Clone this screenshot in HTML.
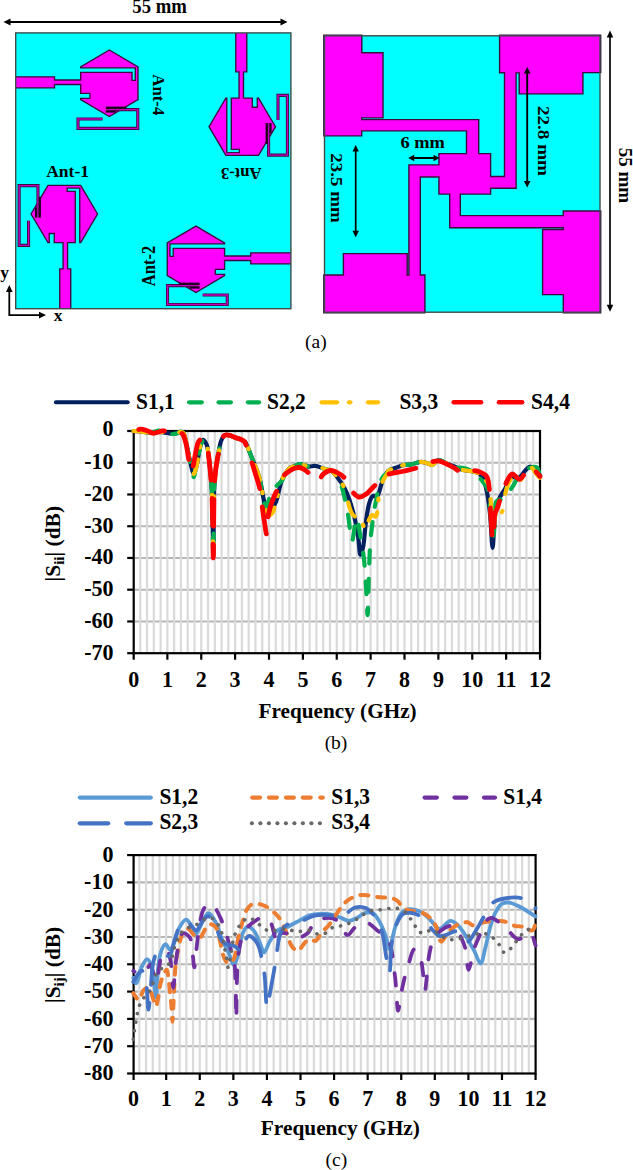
<!DOCTYPE html>
<html><head><meta charset="utf-8"><title>Figure</title>
<style>
html,body{margin:0;padding:0;background:#fff;}
body{width:633px;height:1170px;overflow:hidden;}
svg{display:block;font-family:"Liberation Serif",serif;}
</style></head><body>
<svg width="633" height="1170" viewBox="0 0 633 1170">
<rect width="633" height="1170" fill="#fff"/>
<line x1="8.4" y1="22" x2="282.6" y2="22" stroke="#000" stroke-width="2.2"/><polygon points="3.5,22 10.5,18.4 10.5,25.6" fill="#000"/><polygon points="287.5,22 280.5,25.6 280.5,18.4" fill="#000"/>
<text x="0" y="0" font-size="19.5" font-weight="bold" text-anchor="middle" transform="translate(159.6,13.4) scale(1,1.07)" textLength="54.5" lengthAdjust="spacingAndGlyphs">55 mm</text>
<defs><clipPath id="boxL"><rect x="15.7" y="32.9" width="275.2" height="275.8"/></clipPath></defs>
<rect x="15.7" y="32.9" width="275.2" height="275.8" fill="#00ffff"/>
<g clip-path="url(#boxL)">
<g transform="matrix(1,0,0,1,109.35,83.25)"><polygon points="0,-33.25 28.65,-16.4 28.65,16.3 0,33.25 -28.65,16.3 -28.65,15.05 -19.45,15.05 -19.45,10.05 -28.65,10.05 -28.65,1.25 -54.85,1.25 -54.85,4.55 -110,4.55 -110,-6.45 -54.85,-6.45 -54.85,-3.25 -28.65,-3.25 -28.65,-10.95 22.65,-10.95 22.65,-2.85 25.95,-2.85 25.95,-15.45 -28.65,-15.45 -28.65,-16.4" fill="#ff00ff" stroke="#3c0a3c" stroke-width="1.35" stroke-linejoin="miter"/><polyline points="-3.35,26.35 28.4,26.35 28.4,45.15 -31.35,45.15 -31.35,35.75 -6.75,35.75" fill="none" stroke="#3c0a3c" stroke-width="3.1" stroke-linejoin="miter"/><polyline points="-3.35,26.35 28.4,26.35 28.4,45.15 -31.35,45.15 -31.35,35.75 -6.75,35.75" fill="none" stroke="#c000c0" stroke-width="1.4" stroke-linejoin="miter"/><rect x="-3.65" y="23.35" width="20.8" height="2.2" fill="#1e001e"/><rect x="-3.65" y="27.45" width="10.1" height="1.9" fill="#1e001e"/></g>
<g transform="matrix(0,-1,-1,0,64.3,214)"><polygon points="0,-33.25 28.65,-16.4 28.65,16.3 0,33.25 -28.65,16.3 -28.65,15.05 -19.45,15.05 -19.45,10.05 -28.65,10.05 -28.65,1.25 -54.85,1.25 -54.85,4.55 -110,4.55 -110,-6.45 -54.85,-6.45 -54.85,-3.25 -28.65,-3.25 -28.65,-10.95 22.65,-10.95 22.65,-2.85 25.95,-2.85 25.95,-15.45 -28.65,-15.45 -28.65,-16.4" fill="#ff00ff" stroke="#3c0a3c" stroke-width="1.35" stroke-linejoin="miter"/><polyline points="-3.35,26.35 28.4,26.35 28.4,45.15 -31.35,45.15 -31.35,35.75 -6.75,35.75" fill="none" stroke="#3c0a3c" stroke-width="3.1" stroke-linejoin="miter"/><polyline points="-3.35,26.35 28.4,26.35 28.4,45.15 -31.35,45.15 -31.35,35.75 -6.75,35.75" fill="none" stroke="#c000c0" stroke-width="1.4" stroke-linejoin="miter"/><rect x="-3.65" y="23.35" width="20.8" height="2.2" fill="#1e001e"/><rect x="-3.65" y="27.45" width="10.1" height="1.9" fill="#1e001e"/></g>
<g transform="matrix(0,1,1,0,242.25,126.7)"><polygon points="0,-33.25 28.65,-16.4 28.65,16.3 0,33.25 -28.65,16.3 -28.65,15.05 -19.45,15.05 -19.45,10.05 -28.65,10.05 -28.65,1.25 -54.85,1.25 -54.85,4.55 -110,4.55 -110,-6.45 -54.85,-6.45 -54.85,-3.25 -28.65,-3.25 -28.65,-10.95 22.65,-10.95 22.65,-2.85 25.95,-2.85 25.95,-15.45 -28.65,-15.45 -28.65,-16.4" fill="#ff00ff" stroke="#3c0a3c" stroke-width="1.35" stroke-linejoin="miter"/><polyline points="-3.35,26.35 28.4,26.35 28.4,45.15 -31.35,45.15 -31.35,35.75 -6.75,35.75" fill="none" stroke="#3c0a3c" stroke-width="3.1" stroke-linejoin="miter"/><polyline points="-3.35,26.35 28.4,26.35 28.4,45.15 -31.35,45.15 -31.35,35.75 -6.75,35.75" fill="none" stroke="#c000c0" stroke-width="1.4" stroke-linejoin="miter"/><rect x="-3.65" y="23.35" width="20.8" height="2.2" fill="#1e001e"/><rect x="-3.65" y="27.45" width="10.1" height="1.9" fill="#1e001e"/></g>
<g transform="matrix(-1,0,0,1,195.9,259.3)"><polygon points="0,-33.25 28.65,-16.4 28.65,16.3 0,33.25 -28.65,16.3 -28.65,15.05 -19.45,15.05 -19.45,10.05 -28.65,10.05 -28.65,1.25 -54.85,1.25 -54.85,4.55 -110,4.55 -110,-6.45 -54.85,-6.45 -54.85,-3.25 -28.65,-3.25 -28.65,-10.95 22.65,-10.95 22.65,-2.85 25.95,-2.85 25.95,-15.45 -28.65,-15.45 -28.65,-16.4" fill="#ff00ff" stroke="#3c0a3c" stroke-width="1.35" stroke-linejoin="miter"/><polyline points="-3.35,26.35 28.4,26.35 28.4,45.15 -31.35,45.15 -31.35,35.75 -6.75,35.75" fill="none" stroke="#3c0a3c" stroke-width="3.1" stroke-linejoin="miter"/><polyline points="-3.35,26.35 28.4,26.35 28.4,45.15 -31.35,45.15 -31.35,35.75 -6.75,35.75" fill="none" stroke="#c000c0" stroke-width="1.4" stroke-linejoin="miter"/><rect x="-3.65" y="23.35" width="20.8" height="2.2" fill="#1e001e"/><rect x="-3.65" y="27.45" width="10.1" height="1.9" fill="#1e001e"/></g>
</g>
<rect x="15.7" y="32.9" width="275.2" height="275.8" fill="none" stroke="#3c4c4c" stroke-width="1.4"/>
<text x="0" y="0" font-size="17.5" font-weight="bold" text-anchor="start" transform="translate(153.4,74.3) rotate(90)" textLength="41" lengthAdjust="spacingAndGlyphs">Ant-4</text>
<text x="46.2" y="176.6" font-size="17.5" font-weight="bold" text-anchor="start">Ant-1</text>
<text x="0" y="0" font-size="17.5" font-weight="bold" text-anchor="start" transform="translate(261.6,168.2) rotate(180)" textLength="40.6" lengthAdjust="spacingAndGlyphs">Ant-3</text>
<text x="0" y="0" font-size="18" font-weight="bold" text-anchor="start" transform="translate(155.2,286.2) rotate(-90)" textLength="40.4" lengthAdjust="spacingAndGlyphs">Ant-2</text>
<polyline points="9.3,291 9.3,315.1 39.5,315.1" fill="none" stroke="#000" stroke-width="1.8"/>
<polygon points="9.3,285 12.6,292 6,292" fill="#000"/>
<polygon points="46,315.1 39,318.4 39,311.8" fill="#000"/>
<text x="0.3" y="277.5" font-size="17.5" font-weight="bold" text-anchor="start">y</text>
<text x="53.8" y="320.5" font-size="17.5" font-weight="bold" text-anchor="start">x</text>
<rect x="324.5" y="35.8" width="275.5" height="276.4" fill="#00ffff"/>
<polygon points="324.5,35.8 361.1,35.8 361.1,53.4 382.3,53.4 382.3,117.2 361,117.2 361,135.2 324.5,135.2" fill="none" stroke="#3c0a3c" stroke-width="2.8" stroke-linejoin="miter"/>
<polygon points="360.8,120.3 478,120.3 478,155 467.2,155 467.2,130.2 360.8,130.2" fill="none" stroke="#3c0a3c" stroke-width="2.8" stroke-linejoin="miter"/>
<polygon points="439.6,154.3 489.9,154.3 489.9,193.4 439.6,193.4" fill="none" stroke="#3c0a3c" stroke-width="2.8" stroke-linejoin="miter"/>
<polygon points="489.5,177.2 505.2,177.2 505.2,71.9 515.4,71.9 515.4,187.5 489.5,187.5" fill="none" stroke="#3c0a3c" stroke-width="2.8" stroke-linejoin="miter"/>
<polygon points="500.3,35.8 600,35.8 600,71.9 582.2,71.9 582.2,93.2 519.9,93.2 519.9,72.2 515.4,72.2 515.4,71.9 504.6,71.9 504.6,72 500.3,72" fill="none" stroke="#3c0a3c" stroke-width="2.8" stroke-linejoin="miter"/>
<polygon points="450.4,193 459.6,193 459.6,216.3 564.5,216.3 564.5,227 450.4,227" fill="none" stroke="#3c0a3c" stroke-width="2.8" stroke-linejoin="miter"/>
<polygon points="564,211.7 600,211.7 600,312.2 564,312.2 564,293.9 543.3,293.9 543.3,230.2 564,230.2" fill="none" stroke="#3c0a3c" stroke-width="2.8" stroke-linejoin="miter"/>
<polygon points="440,165.6 440,176.3 419.6,176.3 419.6,276 409.6,276 409.6,165.6" fill="none" stroke="#3c0a3c" stroke-width="2.8" stroke-linejoin="miter"/>
<polygon points="324.5,275.7 344.1,275.7 344.1,254.3 406.5,254.3 406.5,275.7 424.2,275.7 424.2,312.2 324.5,312.2" fill="none" stroke="#3c0a3c" stroke-width="2.8" stroke-linejoin="miter"/>
<polygon points="324.5,35.8 361.1,35.8 361.1,53.4 382.3,53.4 382.3,117.2 361,117.2 361,135.2 324.5,135.2" fill="#ff00ff"/>
<polygon points="360.8,120.3 478,120.3 478,155 467.2,155 467.2,130.2 360.8,130.2" fill="#ff00ff"/>
<polygon points="439.6,154.3 489.9,154.3 489.9,193.4 439.6,193.4" fill="#ff00ff"/>
<polygon points="489.5,177.2 505.2,177.2 505.2,71.9 515.4,71.9 515.4,187.5 489.5,187.5" fill="#ff00ff"/>
<polygon points="500.3,35.8 600,35.8 600,71.9 582.2,71.9 582.2,93.2 519.9,93.2 519.9,72.2 515.4,72.2 515.4,71.9 504.6,71.9 504.6,72 500.3,72" fill="#ff00ff"/>
<polygon points="450.4,193 459.6,193 459.6,216.3 564.5,216.3 564.5,227 450.4,227" fill="#ff00ff"/>
<polygon points="564,211.7 600,211.7 600,312.2 564,312.2 564,293.9 543.3,293.9 543.3,230.2 564,230.2" fill="#ff00ff"/>
<polygon points="440,165.6 440,176.3 419.6,176.3 419.6,276 409.6,276 409.6,165.6" fill="#ff00ff"/>
<polygon points="324.5,275.7 344.1,275.7 344.1,254.3 406.5,254.3 406.5,275.7 424.2,275.7 424.2,312.2 324.5,312.2" fill="#ff00ff"/>
<rect x="324.5" y="35.8" width="275.5" height="276.4" fill="none" stroke="#3c4c4c" stroke-width="1.4"/>
<line x1="412.4" y1="158" x2="435.3" y2="158" stroke="#000" stroke-width="2"/><polygon points="408.2,158 414.2,154.8 414.2,161.2" fill="#000"/><polygon points="439.5,158 433.5,161.2 433.5,154.8" fill="#000"/>
<text x="400.4" y="147.6" font-size="17.5" font-weight="bold" text-anchor="start" textLength="44.4" lengthAdjust="spacingAndGlyphs">6 mm</text>
<line x1="527.2" y1="71.55" x2="527.2" y2="182.95" stroke="#000" stroke-width="1.9"/><polygon points="527.2,67 530.5,73.5 523.9,73.5" fill="#000"/><polygon points="527.2,187.5 523.9,181 530.5,181" fill="#000"/>
<text x="0" y="0" font-size="17.5" font-weight="bold" text-anchor="start" transform="translate(537.8,106.0) rotate(90)" textLength="70" lengthAdjust="spacingAndGlyphs">22.8 mm</text>
<line x1="355.7" y1="149.55" x2="355.7" y2="232.65" stroke="#000" stroke-width="1.7"/><polygon points="355.7,145 358.9,151.5 352.5,151.5" fill="#000"/><polygon points="355.7,237.2 352.5,230.7 358.9,230.7" fill="#000"/>
<text x="0" y="0" font-size="17.5" font-weight="bold" text-anchor="start" transform="translate(331.2,153.3) rotate(90)" textLength="69.4" lengthAdjust="spacingAndGlyphs">23.5 mm</text>
<line x1="610" y1="35.4" x2="610" y2="306.8" stroke="#000" stroke-width="1.7"/><polygon points="610,30.5 613.3,37.5 606.7,37.5" fill="#000"/><polygon points="610,311.7 606.7,304.7 613.3,304.7" fill="#000"/>
<text x="0" y="0" font-size="19" font-weight="bold" text-anchor="start" transform="translate(619.3,147.7) rotate(90)">55 mm</text>
<text x="315.9" y="348.2" font-size="19.5" font-weight="normal" text-anchor="middle">(a)</text>
<line x1="133.7" y1="462.74" x2="540" y2="462.74" stroke="#b6b6b6" stroke-width="2.1"/>
<line x1="133.7" y1="494.49" x2="540" y2="494.49" stroke="#b6b6b6" stroke-width="2.1"/>
<line x1="133.7" y1="526.23" x2="540" y2="526.23" stroke="#b6b6b6" stroke-width="2.1"/>
<line x1="133.7" y1="557.97" x2="540" y2="557.97" stroke="#b6b6b6" stroke-width="2.1"/>
<line x1="133.7" y1="589.71" x2="540" y2="589.71" stroke="#b6b6b6" stroke-width="2.1"/>
<line x1="133.7" y1="621.46" x2="540" y2="621.46" stroke="#b6b6b6" stroke-width="2.1"/>
<line x1="140.28" y1="431" x2="140.28" y2="653.2" stroke="#dadada" stroke-width="2.2"/>
<line x1="147.05" y1="431" x2="147.05" y2="653.2" stroke="#dadada" stroke-width="2.2"/>
<line x1="153.82" y1="431" x2="153.82" y2="653.2" stroke="#dadada" stroke-width="2.2"/>
<line x1="160.6" y1="431" x2="160.6" y2="653.2" stroke="#dadada" stroke-width="2.2"/>
<line x1="167.38" y1="431" x2="167.38" y2="653.2" stroke="#dadada" stroke-width="2.2"/>
<line x1="174.15" y1="431" x2="174.15" y2="653.2" stroke="#dadada" stroke-width="2.2"/>
<line x1="180.93" y1="431" x2="180.93" y2="653.2" stroke="#dadada" stroke-width="2.2"/>
<line x1="187.7" y1="431" x2="187.7" y2="653.2" stroke="#dadada" stroke-width="2.2"/>
<line x1="194.47" y1="431" x2="194.47" y2="653.2" stroke="#dadada" stroke-width="2.2"/>
<line x1="201.25" y1="431" x2="201.25" y2="653.2" stroke="#dadada" stroke-width="2.2"/>
<line x1="208.03" y1="431" x2="208.03" y2="653.2" stroke="#dadada" stroke-width="2.2"/>
<line x1="214.8" y1="431" x2="214.8" y2="653.2" stroke="#dadada" stroke-width="2.2"/>
<line x1="221.57" y1="431" x2="221.57" y2="653.2" stroke="#dadada" stroke-width="2.2"/>
<line x1="228.35" y1="431" x2="228.35" y2="653.2" stroke="#dadada" stroke-width="2.2"/>
<line x1="235.12" y1="431" x2="235.12" y2="653.2" stroke="#dadada" stroke-width="2.2"/>
<line x1="241.9" y1="431" x2="241.9" y2="653.2" stroke="#dadada" stroke-width="2.2"/>
<line x1="248.68" y1="431" x2="248.68" y2="653.2" stroke="#dadada" stroke-width="2.2"/>
<line x1="255.45" y1="431" x2="255.45" y2="653.2" stroke="#dadada" stroke-width="2.2"/>
<line x1="262.23" y1="431" x2="262.23" y2="653.2" stroke="#dadada" stroke-width="2.2"/>
<line x1="269" y1="431" x2="269" y2="653.2" stroke="#dadada" stroke-width="2.2"/>
<line x1="275.77" y1="431" x2="275.77" y2="653.2" stroke="#dadada" stroke-width="2.2"/>
<line x1="282.55" y1="431" x2="282.55" y2="653.2" stroke="#dadada" stroke-width="2.2"/>
<line x1="289.33" y1="431" x2="289.33" y2="653.2" stroke="#dadada" stroke-width="2.2"/>
<line x1="296.1" y1="431" x2="296.1" y2="653.2" stroke="#dadada" stroke-width="2.2"/>
<line x1="302.88" y1="431" x2="302.88" y2="653.2" stroke="#dadada" stroke-width="2.2"/>
<line x1="309.65" y1="431" x2="309.65" y2="653.2" stroke="#dadada" stroke-width="2.2"/>
<line x1="316.43" y1="431" x2="316.43" y2="653.2" stroke="#dadada" stroke-width="2.2"/>
<line x1="323.2" y1="431" x2="323.2" y2="653.2" stroke="#dadada" stroke-width="2.2"/>
<line x1="329.98" y1="431" x2="329.98" y2="653.2" stroke="#dadada" stroke-width="2.2"/>
<line x1="336.75" y1="431" x2="336.75" y2="653.2" stroke="#dadada" stroke-width="2.2"/>
<line x1="343.52" y1="431" x2="343.52" y2="653.2" stroke="#dadada" stroke-width="2.2"/>
<line x1="350.3" y1="431" x2="350.3" y2="653.2" stroke="#dadada" stroke-width="2.2"/>
<line x1="357.08" y1="431" x2="357.08" y2="653.2" stroke="#dadada" stroke-width="2.2"/>
<line x1="363.85" y1="431" x2="363.85" y2="653.2" stroke="#dadada" stroke-width="2.2"/>
<line x1="370.62" y1="431" x2="370.62" y2="653.2" stroke="#dadada" stroke-width="2.2"/>
<line x1="377.4" y1="431" x2="377.4" y2="653.2" stroke="#dadada" stroke-width="2.2"/>
<line x1="384.18" y1="431" x2="384.18" y2="653.2" stroke="#dadada" stroke-width="2.2"/>
<line x1="390.95" y1="431" x2="390.95" y2="653.2" stroke="#dadada" stroke-width="2.2"/>
<line x1="397.73" y1="431" x2="397.73" y2="653.2" stroke="#dadada" stroke-width="2.2"/>
<line x1="404.5" y1="431" x2="404.5" y2="653.2" stroke="#dadada" stroke-width="2.2"/>
<line x1="411.28" y1="431" x2="411.28" y2="653.2" stroke="#dadada" stroke-width="2.2"/>
<line x1="418.05" y1="431" x2="418.05" y2="653.2" stroke="#dadada" stroke-width="2.2"/>
<line x1="424.82" y1="431" x2="424.82" y2="653.2" stroke="#dadada" stroke-width="2.2"/>
<line x1="431.6" y1="431" x2="431.6" y2="653.2" stroke="#dadada" stroke-width="2.2"/>
<line x1="438.38" y1="431" x2="438.38" y2="653.2" stroke="#dadada" stroke-width="2.2"/>
<line x1="445.15" y1="431" x2="445.15" y2="653.2" stroke="#dadada" stroke-width="2.2"/>
<line x1="451.93" y1="431" x2="451.93" y2="653.2" stroke="#dadada" stroke-width="2.2"/>
<line x1="458.7" y1="431" x2="458.7" y2="653.2" stroke="#dadada" stroke-width="2.2"/>
<line x1="465.48" y1="431" x2="465.48" y2="653.2" stroke="#dadada" stroke-width="2.2"/>
<line x1="472.25" y1="431" x2="472.25" y2="653.2" stroke="#dadada" stroke-width="2.2"/>
<line x1="479.03" y1="431" x2="479.03" y2="653.2" stroke="#dadada" stroke-width="2.2"/>
<line x1="485.8" y1="431" x2="485.8" y2="653.2" stroke="#dadada" stroke-width="2.2"/>
<line x1="492.58" y1="431" x2="492.58" y2="653.2" stroke="#dadada" stroke-width="2.2"/>
<line x1="499.35" y1="431" x2="499.35" y2="653.2" stroke="#dadada" stroke-width="2.2"/>
<line x1="506.12" y1="431" x2="506.12" y2="653.2" stroke="#dadada" stroke-width="2.2"/>
<line x1="512.9" y1="431" x2="512.9" y2="653.2" stroke="#dadada" stroke-width="2.2"/>
<line x1="519.67" y1="431" x2="519.67" y2="653.2" stroke="#dadada" stroke-width="2.2"/>
<line x1="526.45" y1="431" x2="526.45" y2="653.2" stroke="#dadada" stroke-width="2.2"/>
<line x1="533.23" y1="431" x2="533.23" y2="653.2" stroke="#dadada" stroke-width="2.2"/>
<rect x="133.7" y="431" width="406.3" height="222.2" fill="none" stroke="#000" stroke-width="2.2"/>
<line x1="127.2" y1="431" x2="133.7" y2="431" stroke="#000" stroke-width="2.2"/>
<line x1="127.2" y1="462.74" x2="133.7" y2="462.74" stroke="#000" stroke-width="2.2"/>
<line x1="127.2" y1="494.49" x2="133.7" y2="494.49" stroke="#000" stroke-width="2.2"/>
<line x1="127.2" y1="526.23" x2="133.7" y2="526.23" stroke="#000" stroke-width="2.2"/>
<line x1="127.2" y1="557.97" x2="133.7" y2="557.97" stroke="#000" stroke-width="2.2"/>
<line x1="127.2" y1="589.71" x2="133.7" y2="589.71" stroke="#000" stroke-width="2.2"/>
<line x1="127.2" y1="621.46" x2="133.7" y2="621.46" stroke="#000" stroke-width="2.2"/>
<line x1="127.2" y1="653.2" x2="133.7" y2="653.2" stroke="#000" stroke-width="2.2"/>
<line x1="133.7" y1="653.2" x2="133.7" y2="659.7" stroke="#000" stroke-width="2.2"/>
<line x1="167.38" y1="653.2" x2="167.38" y2="659.7" stroke="#000" stroke-width="2.2"/>
<line x1="201.25" y1="653.2" x2="201.25" y2="659.7" stroke="#000" stroke-width="2.2"/>
<line x1="235.12" y1="653.2" x2="235.12" y2="659.7" stroke="#000" stroke-width="2.2"/>
<line x1="269" y1="653.2" x2="269" y2="659.7" stroke="#000" stroke-width="2.2"/>
<line x1="302.88" y1="653.2" x2="302.88" y2="659.7" stroke="#000" stroke-width="2.2"/>
<line x1="336.75" y1="653.2" x2="336.75" y2="659.7" stroke="#000" stroke-width="2.2"/>
<line x1="370.62" y1="653.2" x2="370.62" y2="659.7" stroke="#000" stroke-width="2.2"/>
<line x1="404.5" y1="653.2" x2="404.5" y2="659.7" stroke="#000" stroke-width="2.2"/>
<line x1="438.38" y1="653.2" x2="438.38" y2="659.7" stroke="#000" stroke-width="2.2"/>
<line x1="472.25" y1="653.2" x2="472.25" y2="659.7" stroke="#000" stroke-width="2.2"/>
<line x1="506.12" y1="653.2" x2="506.12" y2="659.7" stroke="#000" stroke-width="2.2"/>
<line x1="540" y1="653.2" x2="540" y2="659.7" stroke="#000" stroke-width="2.2"/>
<path d="M133.5,431 C136.32,431.21 139.15,431.37 141.97,431.63 C144.79,431.9 147.61,432.53 150.44,432.59 C153.26,432.64 156.09,431.9 158.91,431.95 C161.73,432 164.71,432.57 167.38,432.9 C169.76,433.21 172.07,434.03 174.15,433.86 C175.98,433.71 177.62,432.39 179.23,432.27 C180.65,432.16 182.34,432.13 183.3,432.9 C184.32,433.74 184.43,435.46 184.99,437.35 C185.91,440.47 186.77,445.69 187.7,450.05 C188.69,454.67 189.62,460.07 190.75,464.33 C191.69,467.85 192.77,473.85 193.8,473.85 C194.81,473.86 195.91,468.27 196.85,464.65 C198.13,459.66 198.81,451.05 200.23,446.55 C201.13,443.72 202.24,440.05 203.28,439.89 C203.95,439.78 204.72,441.24 205.31,442.11 C205.99,443.1 206.53,444.07 207.01,445.6 C207.81,448.17 208.18,452.44 208.7,456.39 C209.33,461.17 209.9,466.85 210.4,472.27 C210.92,477.94 211.4,483.11 211.75,489.72 C212.21,498.41 212.35,509.35 212.6,519.88 C212.87,531.47 213.08,556.38 213.28,556.38 C213.48,556.38 213.59,526.17 213.78,513.53 C213.94,503.5 213.87,494.56 214.29,486.55 C214.63,480.09 215.12,474.61 215.82,469.09 C216.45,464.08 217.29,459.56 218.19,454.81 C219.09,450.04 219.72,444.04 221.24,440.52 C222.25,438.17 223.36,435.91 224.96,435.13 C226.38,434.44 228.44,435.06 230.04,435.44 C231.6,435.82 232.84,436.75 234.45,437.35 C236.3,438.04 238.73,438.4 240.55,439.25 C242.19,440.03 243.55,440.48 244.95,442.11 C247.44,445.02 249.49,451.91 251.72,457.35 C254.24,463.45 257.18,470.09 259.18,477.03 C261.31,484.43 262.58,494.25 263.92,500.52 C264.82,504.71 264.99,509.59 266.29,510.99 C266.87,511.62 267.58,511.8 268.32,511.63 C269.52,511.35 271.15,509.33 272.39,507.82 C273.78,506.11 275.08,504.24 276.11,501.79 C277.49,498.54 278.15,493.5 279.16,489.72 C280.07,486.36 280.83,482.89 281.87,480.2 C282.69,478.1 283.46,476.63 284.58,474.81 C285.87,472.72 287.44,469.96 289.32,468.46 C291,467.12 293.29,466.7 295.08,465.92 C296.65,465.23 297.74,464.12 299.49,464.01 C301.9,463.86 305.49,466.28 308.29,466.55 C310.77,466.79 312.84,465.62 315.41,465.92 C318.6,466.29 322.92,468.5 325.91,469.41 C328.11,470.08 329.92,469.91 331.67,471 C333.71,472.26 335.24,474.67 337.09,477.03 C339.4,479.97 342.18,483.78 344.2,487.5 C346.26,491.29 347.71,495.12 349.28,499.56 C351.14,504.8 352.91,511.04 354.37,517.02 C355.87,523.2 357.07,529.73 358.09,536.07 C359.1,542.32 359.35,554.69 360.46,554.8 C361.22,554.87 362.41,550.07 363.17,546.54 C364.46,540.6 364.78,529.73 365.88,522.1 C366.86,515.34 367.74,507.77 369.27,503.06 C370.24,500.07 371.06,497.07 372.66,496.07 C373.86,495.32 375.79,496.97 377.06,496.07 C379.4,494.43 380.18,486.43 382.14,482.11 C383.95,478.12 385.57,473.37 388.24,471 C390.41,469.06 393.43,468.83 396.03,467.82 C398.62,466.82 401.19,465.54 403.82,464.96 C406.38,464.4 408.91,464.8 411.61,464.33 C414.64,463.81 418.24,461.82 421.1,461.79 C423.45,461.77 425.56,462.81 427.54,463.38 C429.25,463.87 430.67,465.24 432.28,464.96 C434.27,464.62 436.09,460.54 438.38,460.2 C440.8,459.85 443.83,462.31 446.5,463.38 C449.13,464.43 451.7,465.49 454.3,466.55 C456.89,467.61 459.32,468.94 462.09,469.73 C465.05,470.57 468.73,470.73 471.57,471.31 C473.94,471.8 476.33,472.05 478.01,472.9 C479.31,473.56 480.18,474.4 481.06,475.44 C482.02,476.58 482.71,477.95 483.43,479.57 C484.34,481.62 485.11,484.21 485.8,486.87 C486.61,489.95 487.19,493.11 487.83,497.03 C488.69,502.31 489.49,508.67 490.2,515.75 C491.13,525 491.85,547.81 492.57,547.81 C493.18,547.81 493.61,532.44 494.27,525.28 C494.87,518.74 495.04,511.68 496.3,506.55 C497.23,502.77 498.56,499.96 500.03,497.03 C501.41,494.28 503.06,492.27 504.77,489.41 C506.93,485.8 508.99,478.44 511.88,477.03 C513.89,476.05 516.56,478.75 518.66,477.98 C521.28,477.02 523.6,472.09 525.77,470.04 C527.35,468.56 528.58,466.58 530.18,466.55 C532.03,466.51 534.57,469.4 536.27,471 C537.77,472.39 538.76,473.96 540,475.44" fill="none" stroke="#002060" stroke-width="4.2" stroke-linecap="round" stroke-linejoin="round"/>
<path d="M133.5,431 C136.32,431.21 139.15,431.37 141.97,431.63 C144.79,431.9 147.63,432.79 150.44,432.59 C153.28,432.38 156.79,430.97 158.91,430.37 C160.18,430 160.9,429.36 161.95,429.41 C163.15,429.47 164.46,430.28 165.68,431 C167.06,431.81 168.27,433.73 169.75,434.17 C171.11,434.59 172.78,434.03 174.15,433.86 C175.36,433.7 176.43,433.58 177.54,433.22 C178.69,432.85 179.9,431.61 180.92,431.63 C181.79,431.66 182.66,432.18 183.3,432.9 C184.14,433.86 184.43,435.46 184.99,437.35 C185.91,440.47 186.77,445.69 187.7,450.05 C188.69,454.67 189.97,463.7 190.75,464.33 C190.87,464.43 190.97,464.23 191.09,464.33 C191.81,464.92 192.92,477.04 193.8,477.03 C194.73,477.02 196.04,462.74 196.51,462.74 C196.68,462.74 196.67,464.65 196.85,464.65 C197.39,464.65 198.81,451.05 200.23,446.55 C201.13,443.72 202.24,440.05 203.28,439.89 C203.95,439.78 204.72,441.24 205.31,442.11 C205.99,443.1 206.53,444.07 207.01,445.6 C207.81,448.17 208.18,452.44 208.7,456.39 C209.33,461.17 209.9,466.85 210.4,472.27 C210.92,477.94 211.4,483.11 211.75,489.72 C212.21,498.41 212.35,509.35 212.6,519.88 C212.87,531.47 213.08,556.38 213.28,556.38 C213.48,556.38 213.59,526.17 213.78,513.53 C213.94,503.5 213.87,494.56 214.29,486.55 C214.63,480.09 215.12,474.61 215.82,469.09 C216.45,464.08 217.29,459.56 218.19,454.81 C219.09,450.04 219.72,444.04 221.24,440.52 C222.25,438.17 223.36,435.91 224.96,435.13 C226.38,434.44 228.44,435.06 230.04,435.44 C231.6,435.82 232.84,436.75 234.45,437.35 C236.3,438.04 238.73,438.4 240.55,439.25 C242.19,440.03 243.55,440.48 244.95,442.11 C247.44,445.02 249.49,451.91 251.72,457.35 C254.24,463.45 257.18,470.09 259.18,477.03 C261.31,484.43 262.42,495.11 263.92,500.52 C264.73,503.45 265.48,507.19 266.29,507.18 C267.17,507.18 268.02,501.96 269,499.25 C270.04,496.36 270.84,492.83 272.39,490.36 C273.75,488.18 275.81,486.62 277.47,484.96 C278.97,483.47 280.7,482.48 281.87,480.84 C283.1,479.12 283.42,476.78 284.58,474.81 C285.85,472.64 287.44,469.96 289.32,468.46 C291,467.12 293.29,466.7 295.08,465.92 C296.65,465.23 297.74,464.12 299.49,464.01 C301.9,463.86 305.49,466.28 308.29,466.55 C310.77,466.79 312.84,465.62 315.41,465.92 C318.6,466.29 322.92,468.5 325.91,469.41 C328.11,470.08 329.92,469.91 331.67,471 C333.71,472.26 335.56,474.84 337.09,477.03 C338.6,479.19 339.59,480.8 340.82,484.01 C343.14,490.12 345.73,502.49 347.59,511.94 C349.47,521.53 350.55,541.12 351.99,541.15 C353.14,541.17 354.29,527.12 355.38,523.05 C355.96,520.93 356.52,518.25 357.07,518.29 C358.01,518.37 358.83,527.13 359.78,532.58 C361.05,539.82 362.8,549.01 363.85,557.97 C365.02,567.94 365.58,579.72 366.22,589.71 C366.79,598.65 367.17,615.11 367.58,615.11 C368.1,615.1 368.45,586.7 368.93,573.84 C369.36,562.57 369.67,550.29 370.29,542.1 C370.67,536.91 371.05,534.22 371.64,529.4 C372.42,523.02 373.67,513.03 374.69,507.18 C375.36,503.33 376.09,501.07 376.72,497.66 C377.45,493.74 377.41,488.78 378.75,484.96 C379.99,481.44 382.36,477.5 384.18,475.44 C385.3,474.16 386.91,473.79 387.56,472.9 C388.01,472.29 387.67,471.59 388.24,471 C389.4,469.78 393.43,468.83 396.03,467.82 C398.62,466.82 401.19,465.54 403.82,464.96 C406.38,464.4 408.91,464.8 411.61,464.33 C414.64,463.81 418.24,461.82 421.1,461.79 C423.45,461.77 425.56,462.81 427.54,463.38 C429.25,463.87 430.67,465.24 432.28,464.96 C434.27,464.62 436.09,460.54 438.38,460.2 C440.8,459.85 443.83,462.31 446.5,463.38 C449.13,464.43 452.95,465.69 454.3,466.55 C454.84,466.9 454.76,467.27 455.31,467.5 C456.53,468.02 459.85,467.46 462.09,467.82 C464.37,468.19 467.15,469 468.86,469.73 C470.01,470.21 470.44,470.85 471.57,471.31 C473.22,471.98 476.74,471.7 478.01,472.9 C479.07,473.91 478.65,475.98 479.36,477.34 C480.1,478.74 481.31,479.69 482.41,481.15 C483.84,483.05 486.04,485.07 487.15,487.82 C488.58,491.31 488.52,495.77 489.19,500.83 C490.11,507.89 490.99,519.81 491.9,526.23 C492.46,530.18 493.13,535.78 493.59,535.75 C494.29,535.71 494.4,519.81 494.95,513.53 C495.35,508.9 494.67,503.74 496.3,501.47 C497.37,499.98 499.47,500.03 501.04,499.25 C502.64,498.45 504.42,497.93 505.79,496.71 C507.29,495.36 508.28,493.14 509.51,491.31 C510.77,489.44 511.96,487.72 513.24,485.6 C514.77,483.05 516.25,479.6 517.98,477.03 C519.55,474.68 521.02,472.22 523.06,470.68 C525.01,469.21 527.53,468.4 529.84,467.82 C532.05,467.26 534.95,466.18 536.61,467.19 C538.52,468.34 538.87,472.69 540,475.44" fill="none" stroke="#00b050" stroke-width="4.2" stroke-linecap="round" stroke-linejoin="round" stroke-dasharray="13 15.5" stroke-dashoffset="16.36"/>
<path d="M133.5,431 C136.32,431.21 139.15,431.37 141.97,431.63 C144.79,431.9 147.61,432.53 150.44,432.59 C153.26,432.64 156.09,431.9 158.91,431.95 C161.73,432 164.71,432.57 167.38,432.9 C169.76,433.21 172.07,434.03 174.15,433.86 C175.98,433.71 177.62,432.39 179.23,432.27 C180.65,432.16 182.34,432.13 183.3,432.9 C184.32,433.74 184.43,435.46 184.99,437.35 C185.91,440.47 186.77,445.69 187.7,450.05 C188.69,454.67 189.62,460.07 190.75,464.33 C191.69,467.85 192.77,473.85 193.8,473.85 C194.81,473.86 195.91,468.27 196.85,464.65 C198.13,459.66 198.81,451.05 200.23,446.55 C201.13,443.72 202.24,440.05 203.28,439.89 C203.95,439.78 204.72,441.24 205.31,442.11 C205.99,443.1 206.53,444.07 207.01,445.6 C207.81,448.17 208.18,452.44 208.7,456.39 C209.33,461.17 209.9,466.85 210.4,472.27 C210.92,477.94 211.4,483.11 211.75,489.72 C212.21,498.41 212.35,509.35 212.6,519.88 C212.87,531.47 213.08,556.38 213.28,556.38 C213.48,556.38 213.59,526.17 213.78,513.53 C213.94,503.5 213.87,494.56 214.29,486.55 C214.63,480.09 215.12,474.61 215.82,469.09 C216.45,464.08 217.29,459.56 218.19,454.81 C219.09,450.04 219.72,444.04 221.24,440.52 C222.25,438.17 223.36,435.91 224.96,435.13 C226.38,434.44 228.44,435.06 230.04,435.44 C231.6,435.82 232.84,436.75 234.45,437.35 C236.3,438.04 238.73,438.4 240.55,439.25 C242.19,440.03 243.55,440.48 244.95,442.11 C247.44,445.02 249.49,451.91 251.72,457.35 C254.24,463.45 257.18,470.09 259.18,477.03 C261.31,484.43 262.56,494.37 263.92,500.52 C264.8,504.51 265.25,507.72 266.29,510.36 C267.06,512.29 267.88,514.85 269,515.12 C269.97,515.35 271.41,514.19 272.39,512.9 C274.11,510.61 274.96,504.78 276.11,500.83 C277.21,497.06 278.17,493.28 279.16,489.72 C280.08,486.43 280.83,482.89 281.87,480.2 C282.69,478.1 283.46,476.63 284.58,474.81 C285.87,472.72 287.44,469.96 289.32,468.46 C291,467.12 293.29,466.7 295.08,465.92 C296.65,465.23 297.74,464.12 299.49,464.01 C301.9,463.86 305.49,466.28 308.29,466.55 C310.77,466.79 312.84,465.62 315.41,465.92 C318.6,466.29 322.92,468.5 325.91,469.41 C328.11,470.08 329.92,469.91 331.67,471 C333.71,472.26 335.24,474.67 337.09,477.03 C339.4,479.97 342.55,483.89 344.2,487.5 C345.71,490.79 345.81,493.91 346.91,497.66 C348.3,502.38 349.74,509.96 351.99,513.53 C353.45,515.84 355.38,516.71 357.07,518.29 C358.77,519.88 360.75,521.06 362.16,523.05 C363.78,525.36 364.8,531.71 365.88,531.62 C367.11,531.53 367.55,522.83 368.93,519.88 C369.89,517.83 371.03,515.46 372.32,515.12 C373.35,514.85 374.77,517.21 375.71,516.71 C378,515.48 377.77,500.83 379.09,494.49 C380.11,489.63 380.93,485.56 382.48,481.79 C383.85,478.46 386.69,474.8 387.56,472.9 C387.95,472.06 387.67,471.59 388.24,471 C389.4,469.78 393.43,468.83 396.03,467.82 C398.62,466.82 401.19,465.54 403.82,464.96 C406.38,464.4 408.91,464.8 411.61,464.33 C414.64,463.81 418.24,461.82 421.1,461.79 C423.45,461.77 425.56,462.81 427.54,463.38 C429.25,463.87 430.67,465.24 432.28,464.96 C434.27,464.62 436.09,460.54 438.38,460.2 C440.8,459.85 443.83,462.31 446.5,463.38 C449.13,464.43 451.7,465.49 454.3,466.55 C456.89,467.61 459.32,468.94 462.09,469.73 C465.05,470.57 468.73,470.73 471.57,471.31 C473.94,471.8 476.33,472.05 478.01,472.9 C479.31,473.56 480.18,474.4 481.06,475.44 C482.02,476.58 482.46,478.82 483.43,479.57 C484.13,480.1 485.09,479.54 485.8,480.2 C487.25,481.54 488.32,486.02 489.19,489.72 C490.33,494.61 490.65,500.64 491.22,507.18 C491.95,515.53 492.2,535.73 492.91,535.75 C493.49,535.77 493.87,522.02 494.95,516.71 C495.74,512.75 496.68,506.74 497.99,506.55 C499.05,506.4 500.73,512.46 501.72,512.26 C503.18,511.97 503.37,502.34 504.43,497.66 C505.42,493.26 506.29,488.47 507.82,484.96 C509.03,482.18 510.22,478.65 512.22,477.98 C514.19,477.32 517.57,481.59 519.67,480.84 C522.3,479.89 523.65,472.52 525.77,470.04 C527.2,468.37 528.67,466.4 530.18,466.55 C532.14,466.75 534.45,471.84 536.27,473.85 C537.64,475.36 538.76,476.39 540,477.66" fill="none" stroke="#ffc000" stroke-width="4.2" stroke-linecap="round" stroke-linejoin="round" stroke-dasharray="15.5 11.8 1.5 17.5"/>
<path d="M133.5,431.95 C135.76,431 137.98,429.29 140.28,429.1 C142.5,428.91 144.88,429.98 147.05,430.68 C149.17,431.37 151.12,433.04 153.15,433.22 C155.07,433.39 157.3,432.42 158.91,431.95 C160.1,431.61 160.78,430.96 161.95,430.84 C163.49,430.68 165.49,431.19 167.38,431.63 C169.53,432.14 172.05,433.84 174.15,433.86 C175.96,433.87 177.74,432.11 179.23,432.27 C180.51,432.4 181.65,433.03 182.62,434.17 C184.17,436.02 185.09,440.19 186.01,443.7 C187.08,447.8 187.62,452.97 188.38,457.35 C189.08,461.41 189.57,466.65 190.41,469.09 C190.82,470.29 191.34,471.69 191.76,471.63 C192.52,471.53 193.13,465.98 193.8,462.74 C194.6,458.89 195.29,453.85 196.17,450.05 C196.9,446.89 197.35,443.3 198.54,441.48 C199.29,440.33 200.37,439.43 201.25,439.25 C201.94,439.12 202.65,439.49 203.28,439.89 C204.03,440.36 204.72,441.24 205.31,442.11 C205.99,443.1 206.53,444.07 207.01,445.6 C207.81,448.17 208.18,452.44 208.7,456.39 C209.33,461.17 209.9,466.85 210.4,472.27 C210.92,477.94 211.4,483.11 211.75,489.72 C212.21,498.41 212.35,509.24 212.6,519.88 C212.87,531.84 213.08,557.97 213.28,557.97 C213.48,557.97 213.59,526.51 213.78,513.53 C213.94,503.42 213.87,494.56 214.29,486.55 C214.63,480.09 215.12,474.61 215.82,469.09 C216.45,464.08 217.29,459.56 218.19,454.81 C219.09,450.04 219.72,444.04 221.24,440.52 C222.25,438.17 223.36,435.91 224.96,435.13 C226.38,434.44 228.44,435.06 230.04,435.44 C231.6,435.82 232.84,436.75 234.45,437.35 C236.3,438.04 238.73,438.4 240.55,439.25 C242.19,440.03 244.32,441.32 244.95,442.11 C245.22,442.46 245.11,442.55 245.29,443.06 C246.04,445.22 249.29,454.53 251.05,459.89 C252.64,464.75 254.01,469.09 255.45,473.85 C256.95,478.81 258.74,483.77 259.85,489.09 C261.04,494.74 261.42,501.08 262.23,506.87 C263,512.39 263.8,518.13 264.6,523.05 C265.27,527.2 266.13,534.51 266.63,534.48 C267.19,534.45 267.15,524 267.64,519.88 C268.01,516.82 268.33,514.79 269,511.94 C269.81,508.53 271.16,504.2 272.39,500.83 C273.44,497.94 274.62,495.3 275.77,492.9 C276.77,490.81 277.81,489.35 278.82,487.18 C280.07,484.51 281.4,480.21 282.55,477.98 C283.26,476.6 284.05,475.44 284.58,474.81 C284.84,474.49 284.9,474.46 285.26,474.17 C286.4,473.26 290.22,470.21 292.71,469.09 C294.85,468.14 297.12,467.35 299.15,467.5 C301.06,467.65 302.82,468.64 304.57,469.73 C306.57,470.97 308.61,472.97 310.33,474.81 C311.99,476.58 313.02,479.94 314.73,480.52 C316.14,481 318.12,480.17 319.47,479.25 C321.01,478.2 321.53,475.59 323.2,474.17 C325.12,472.54 328.25,470.57 330.65,470.36 C332.75,470.18 334.68,471.22 336.75,472.27 C339.29,473.55 342.21,475.37 344.54,477.98 C347.44,481.23 349.27,487.64 351.99,490.99 C354.11,493.6 356.37,496.58 358.77,497.03 C360.91,497.43 363.23,495.95 365.54,494.49 C368.72,492.48 371.85,488.12 375.37,484.96 C379.15,481.56 382.85,477.13 387.56,474.81 C392.5,472.37 399.18,472.28 404.5,471 C409.28,469.84 414.11,468.89 418.05,467.5 C421.26,466.38 423.83,464.74 426.52,463.7 C428.88,462.78 431.18,461.95 433.29,461.47 C435.09,461.07 436.59,460.63 438.38,460.84 C440.5,461.09 442.79,462.36 445.15,463.38 C447.84,464.53 450.98,466.06 453.62,467.5 C456.04,468.83 458.94,471.85 460.39,471.63 C461.22,471.51 461.16,470.05 462.09,469.73 C463.89,469.09 469.29,471.36 471.57,471.31 C472.87,471.29 473.41,470.64 474.62,470.68 C476.44,470.74 479.44,471.7 481.4,472.58 C483.09,473.35 484.71,474.25 485.8,475.44 C486.79,476.52 487.3,477.66 487.83,479.25 C488.59,481.54 488.84,485.35 489.19,488.14 C489.49,490.6 489.67,492.32 489.87,495.12 C490.16,499.34 490.26,505.76 490.54,510.99 C490.82,516.12 491.21,521.26 491.56,526.23 C491.89,530.99 492.18,540.19 492.57,540.2 C492.97,540.2 493.53,530.77 493.93,526.23 C494.31,521.9 494.12,516.82 494.95,513.53 C495.51,511.3 496.47,510.38 497.32,508.14 C498.65,504.59 500.04,498.79 501.72,494.17 C503.42,489.48 505.41,483.85 507.48,480.2 C508.98,477.56 510.29,474.15 512.22,473.85 C514.3,473.54 517.12,479.54 519.67,479.25 C523.05,478.86 526.64,467.37 530.18,467.19 C533.42,467.02 536.73,473.32 540,476.39" fill="none" stroke="#ff0000" stroke-width="4.8" stroke-linecap="round" stroke-linejoin="round" stroke-dasharray="27 18.5" stroke-dashoffset="39.74"/>
<text x="0" y="0" font-size="22" font-weight="bold" text-anchor="end" transform="translate(113.6,436) scale(1,1.05)">0</text>
<text x="0" y="0" font-size="22" font-weight="bold" text-anchor="end" transform="translate(113.6,469.24) scale(1,1.05)">-10</text>
<text x="0" y="0" font-size="22" font-weight="bold" text-anchor="end" transform="translate(113.6,500.99) scale(1,1.05)">-20</text>
<text x="0" y="0" font-size="22" font-weight="bold" text-anchor="end" transform="translate(113.6,532.73) scale(1,1.05)">-30</text>
<text x="0" y="0" font-size="22" font-weight="bold" text-anchor="end" transform="translate(113.6,564.47) scale(1,1.05)">-40</text>
<text x="0" y="0" font-size="22" font-weight="bold" text-anchor="end" transform="translate(113.6,596.21) scale(1,1.05)">-50</text>
<text x="0" y="0" font-size="22" font-weight="bold" text-anchor="end" transform="translate(113.6,627.96) scale(1,1.05)">-60</text>
<text x="0" y="0" font-size="22" font-weight="bold" text-anchor="end" transform="translate(113.6,659.7) scale(1,1.05)">-70</text>
<text x="0" y="0" font-size="22" font-weight="bold" text-anchor="middle" transform="translate(133.7,686.6) scale(1,1.05)">0</text>
<text x="0" y="0" font-size="22" font-weight="bold" text-anchor="middle" transform="translate(167.38,686.6) scale(1,1.05)">1</text>
<text x="0" y="0" font-size="22" font-weight="bold" text-anchor="middle" transform="translate(201.25,686.6) scale(1,1.05)">2</text>
<text x="0" y="0" font-size="22" font-weight="bold" text-anchor="middle" transform="translate(235.12,686.6) scale(1,1.05)">3</text>
<text x="0" y="0" font-size="22" font-weight="bold" text-anchor="middle" transform="translate(269,686.6) scale(1,1.05)">4</text>
<text x="0" y="0" font-size="22" font-weight="bold" text-anchor="middle" transform="translate(302.88,686.6) scale(1,1.05)">5</text>
<text x="0" y="0" font-size="22" font-weight="bold" text-anchor="middle" transform="translate(336.75,686.6) scale(1,1.05)">6</text>
<text x="0" y="0" font-size="22" font-weight="bold" text-anchor="middle" transform="translate(370.62,686.6) scale(1,1.05)">7</text>
<text x="0" y="0" font-size="22" font-weight="bold" text-anchor="middle" transform="translate(404.5,686.6) scale(1,1.05)">8</text>
<text x="0" y="0" font-size="22" font-weight="bold" text-anchor="middle" transform="translate(438.38,686.6) scale(1,1.05)">9</text>
<text x="0" y="0" font-size="22" font-weight="bold" text-anchor="middle" transform="translate(472.25,686.6) scale(1,1.05)">10</text>
<text x="0" y="0" font-size="22" font-weight="bold" text-anchor="middle" transform="translate(506.12,686.6) scale(1,1.05)">11</text>
<text x="0" y="0" font-size="22" font-weight="bold" text-anchor="middle" transform="translate(540,686.6) scale(1,1.05)">12</text>
<line x1="55.9" y1="402.3" x2="127.7" y2="402.3" stroke="#002060" stroke-width="4" stroke-linecap="round"/>
<text x="0" y="0" font-size="21.5" font-weight="bold" text-anchor="start" transform="translate(136,409) scale(1,1.07)">S1,1</text>
<line x1="189.15" y1="402.3" x2="201.75" y2="402.3" stroke="#00b050" stroke-width="4.3" stroke-linecap="round"/>
<line x1="218.65" y1="402.3" x2="230.85" y2="402.3" stroke="#00b050" stroke-width="4.3" stroke-linecap="round"/>
<line x1="247.95" y1="402.3" x2="259.05" y2="402.3" stroke="#00b050" stroke-width="4.3" stroke-linecap="round"/>
<text x="0" y="0" font-size="21.5" font-weight="bold" text-anchor="start" transform="translate(267,409) scale(1,1.07)">S2,2</text>
<line x1="321.65" y1="402.3" x2="337.05" y2="402.3" stroke="#ffc000" stroke-width="4.3" stroke-linecap="round"/>
<line x1="348.95" y1="402.3" x2="350.35" y2="402.3" stroke="#ffc000" stroke-width="4.3" stroke-linecap="round"/>
<line x1="367.95" y1="402.3" x2="378.05" y2="402.3" stroke="#ffc000" stroke-width="4.3" stroke-linecap="round"/>
<text x="0" y="0" font-size="21.5" font-weight="bold" text-anchor="start" transform="translate(399.4,409) scale(1,1.07)">S3,3</text>
<line x1="453.7" y1="402.3" x2="481" y2="402.3" stroke="#ff0000" stroke-width="4.6" stroke-linecap="round"/>
<line x1="499" y1="402.3" x2="522.1" y2="402.3" stroke="#ff0000" stroke-width="4.6" stroke-linecap="round"/>
<text x="0" y="0" font-size="21.5" font-weight="bold" text-anchor="start" transform="translate(531.1,409) scale(1,1.07)">S4,4</text>
<text x="0" y="0" font-size="20" font-weight="bold" text-anchor="middle" transform="translate(337.6,717.8) scale(1,1.05)" textLength="158" lengthAdjust="spacingAndGlyphs">Frequency (GHz)</text>
<text transform="translate(60.3,543.7) scale(1,1.07) rotate(-90)" font-size="20" font-weight="bold" text-anchor="middle">|S<tspan font-size="14" dy="4">ii</tspan><tspan dy="-4">| (dB)</tspan></text>
<text x="336" y="748.5" font-size="19.5" font-weight="normal" text-anchor="middle">(b)</text>
<line x1="133.6" y1="882.4" x2="535.6" y2="882.4" stroke="#b6b6b6" stroke-width="2.1"/>
<line x1="133.6" y1="909.7" x2="535.6" y2="909.7" stroke="#b6b6b6" stroke-width="2.1"/>
<line x1="133.6" y1="937" x2="535.6" y2="937" stroke="#b6b6b6" stroke-width="2.1"/>
<line x1="133.6" y1="964.3" x2="535.6" y2="964.3" stroke="#b6b6b6" stroke-width="2.1"/>
<line x1="133.6" y1="991.6" x2="535.6" y2="991.6" stroke="#b6b6b6" stroke-width="2.1"/>
<line x1="133.6" y1="1018.9" x2="535.6" y2="1018.9" stroke="#b6b6b6" stroke-width="2.1"/>
<line x1="133.6" y1="1046.2" x2="535.6" y2="1046.2" stroke="#b6b6b6" stroke-width="2.1"/>
<line x1="139.32" y1="855.1" x2="139.32" y2="1073.5" stroke="#dadada" stroke-width="2.2"/>
<line x1="146.03" y1="855.1" x2="146.03" y2="1073.5" stroke="#dadada" stroke-width="2.2"/>
<line x1="152.75" y1="855.1" x2="152.75" y2="1073.5" stroke="#dadada" stroke-width="2.2"/>
<line x1="159.46" y1="855.1" x2="159.46" y2="1073.5" stroke="#dadada" stroke-width="2.2"/>
<line x1="166.18" y1="855.1" x2="166.18" y2="1073.5" stroke="#dadada" stroke-width="2.2"/>
<line x1="172.9" y1="855.1" x2="172.9" y2="1073.5" stroke="#dadada" stroke-width="2.2"/>
<line x1="179.61" y1="855.1" x2="179.61" y2="1073.5" stroke="#dadada" stroke-width="2.2"/>
<line x1="186.33" y1="855.1" x2="186.33" y2="1073.5" stroke="#dadada" stroke-width="2.2"/>
<line x1="193.04" y1="855.1" x2="193.04" y2="1073.5" stroke="#dadada" stroke-width="2.2"/>
<line x1="199.76" y1="855.1" x2="199.76" y2="1073.5" stroke="#dadada" stroke-width="2.2"/>
<line x1="206.48" y1="855.1" x2="206.48" y2="1073.5" stroke="#dadada" stroke-width="2.2"/>
<line x1="213.19" y1="855.1" x2="213.19" y2="1073.5" stroke="#dadada" stroke-width="2.2"/>
<line x1="219.91" y1="855.1" x2="219.91" y2="1073.5" stroke="#dadada" stroke-width="2.2"/>
<line x1="226.62" y1="855.1" x2="226.62" y2="1073.5" stroke="#dadada" stroke-width="2.2"/>
<line x1="233.34" y1="855.1" x2="233.34" y2="1073.5" stroke="#dadada" stroke-width="2.2"/>
<line x1="240.06" y1="855.1" x2="240.06" y2="1073.5" stroke="#dadada" stroke-width="2.2"/>
<line x1="246.77" y1="855.1" x2="246.77" y2="1073.5" stroke="#dadada" stroke-width="2.2"/>
<line x1="253.49" y1="855.1" x2="253.49" y2="1073.5" stroke="#dadada" stroke-width="2.2"/>
<line x1="260.2" y1="855.1" x2="260.2" y2="1073.5" stroke="#dadada" stroke-width="2.2"/>
<line x1="266.92" y1="855.1" x2="266.92" y2="1073.5" stroke="#dadada" stroke-width="2.2"/>
<line x1="273.64" y1="855.1" x2="273.64" y2="1073.5" stroke="#dadada" stroke-width="2.2"/>
<line x1="280.35" y1="855.1" x2="280.35" y2="1073.5" stroke="#dadada" stroke-width="2.2"/>
<line x1="287.07" y1="855.1" x2="287.07" y2="1073.5" stroke="#dadada" stroke-width="2.2"/>
<line x1="293.78" y1="855.1" x2="293.78" y2="1073.5" stroke="#dadada" stroke-width="2.2"/>
<line x1="300.5" y1="855.1" x2="300.5" y2="1073.5" stroke="#dadada" stroke-width="2.2"/>
<line x1="307.22" y1="855.1" x2="307.22" y2="1073.5" stroke="#dadada" stroke-width="2.2"/>
<line x1="313.93" y1="855.1" x2="313.93" y2="1073.5" stroke="#dadada" stroke-width="2.2"/>
<line x1="320.65" y1="855.1" x2="320.65" y2="1073.5" stroke="#dadada" stroke-width="2.2"/>
<line x1="327.36" y1="855.1" x2="327.36" y2="1073.5" stroke="#dadada" stroke-width="2.2"/>
<line x1="334.08" y1="855.1" x2="334.08" y2="1073.5" stroke="#dadada" stroke-width="2.2"/>
<line x1="340.8" y1="855.1" x2="340.8" y2="1073.5" stroke="#dadada" stroke-width="2.2"/>
<line x1="347.51" y1="855.1" x2="347.51" y2="1073.5" stroke="#dadada" stroke-width="2.2"/>
<line x1="354.23" y1="855.1" x2="354.23" y2="1073.5" stroke="#dadada" stroke-width="2.2"/>
<line x1="360.94" y1="855.1" x2="360.94" y2="1073.5" stroke="#dadada" stroke-width="2.2"/>
<line x1="367.66" y1="855.1" x2="367.66" y2="1073.5" stroke="#dadada" stroke-width="2.2"/>
<line x1="374.38" y1="855.1" x2="374.38" y2="1073.5" stroke="#dadada" stroke-width="2.2"/>
<line x1="381.09" y1="855.1" x2="381.09" y2="1073.5" stroke="#dadada" stroke-width="2.2"/>
<line x1="387.81" y1="855.1" x2="387.81" y2="1073.5" stroke="#dadada" stroke-width="2.2"/>
<line x1="394.52" y1="855.1" x2="394.52" y2="1073.5" stroke="#dadada" stroke-width="2.2"/>
<line x1="401.24" y1="855.1" x2="401.24" y2="1073.5" stroke="#dadada" stroke-width="2.2"/>
<line x1="407.96" y1="855.1" x2="407.96" y2="1073.5" stroke="#dadada" stroke-width="2.2"/>
<line x1="414.67" y1="855.1" x2="414.67" y2="1073.5" stroke="#dadada" stroke-width="2.2"/>
<line x1="421.39" y1="855.1" x2="421.39" y2="1073.5" stroke="#dadada" stroke-width="2.2"/>
<line x1="428.1" y1="855.1" x2="428.1" y2="1073.5" stroke="#dadada" stroke-width="2.2"/>
<line x1="434.82" y1="855.1" x2="434.82" y2="1073.5" stroke="#dadada" stroke-width="2.2"/>
<line x1="441.54" y1="855.1" x2="441.54" y2="1073.5" stroke="#dadada" stroke-width="2.2"/>
<line x1="448.25" y1="855.1" x2="448.25" y2="1073.5" stroke="#dadada" stroke-width="2.2"/>
<line x1="454.97" y1="855.1" x2="454.97" y2="1073.5" stroke="#dadada" stroke-width="2.2"/>
<line x1="461.68" y1="855.1" x2="461.68" y2="1073.5" stroke="#dadada" stroke-width="2.2"/>
<line x1="468.4" y1="855.1" x2="468.4" y2="1073.5" stroke="#dadada" stroke-width="2.2"/>
<line x1="475.12" y1="855.1" x2="475.12" y2="1073.5" stroke="#dadada" stroke-width="2.2"/>
<line x1="481.83" y1="855.1" x2="481.83" y2="1073.5" stroke="#dadada" stroke-width="2.2"/>
<line x1="488.55" y1="855.1" x2="488.55" y2="1073.5" stroke="#dadada" stroke-width="2.2"/>
<line x1="495.26" y1="855.1" x2="495.26" y2="1073.5" stroke="#dadada" stroke-width="2.2"/>
<line x1="501.98" y1="855.1" x2="501.98" y2="1073.5" stroke="#dadada" stroke-width="2.2"/>
<line x1="508.7" y1="855.1" x2="508.7" y2="1073.5" stroke="#dadada" stroke-width="2.2"/>
<line x1="515.41" y1="855.1" x2="515.41" y2="1073.5" stroke="#dadada" stroke-width="2.2"/>
<line x1="522.13" y1="855.1" x2="522.13" y2="1073.5" stroke="#dadada" stroke-width="2.2"/>
<line x1="528.84" y1="855.1" x2="528.84" y2="1073.5" stroke="#dadada" stroke-width="2.2"/>
<rect x="133.6" y="855.1" width="402" height="218.4" fill="none" stroke="#000" stroke-width="2.2"/>
<line x1="127.1" y1="855.1" x2="133.6" y2="855.1" stroke="#000" stroke-width="2.2"/>
<line x1="127.1" y1="882.4" x2="133.6" y2="882.4" stroke="#000" stroke-width="2.2"/>
<line x1="127.1" y1="909.7" x2="133.6" y2="909.7" stroke="#000" stroke-width="2.2"/>
<line x1="127.1" y1="937" x2="133.6" y2="937" stroke="#000" stroke-width="2.2"/>
<line x1="127.1" y1="964.3" x2="133.6" y2="964.3" stroke="#000" stroke-width="2.2"/>
<line x1="127.1" y1="991.6" x2="133.6" y2="991.6" stroke="#000" stroke-width="2.2"/>
<line x1="127.1" y1="1018.9" x2="133.6" y2="1018.9" stroke="#000" stroke-width="2.2"/>
<line x1="127.1" y1="1046.2" x2="133.6" y2="1046.2" stroke="#000" stroke-width="2.2"/>
<line x1="127.1" y1="1073.5" x2="133.6" y2="1073.5" stroke="#000" stroke-width="2.2"/>
<line x1="133.6" y1="1073.5" x2="133.6" y2="1080" stroke="#000" stroke-width="2.2"/>
<line x1="166.18" y1="1073.5" x2="166.18" y2="1080" stroke="#000" stroke-width="2.2"/>
<line x1="199.76" y1="1073.5" x2="199.76" y2="1080" stroke="#000" stroke-width="2.2"/>
<line x1="233.34" y1="1073.5" x2="233.34" y2="1080" stroke="#000" stroke-width="2.2"/>
<line x1="266.92" y1="1073.5" x2="266.92" y2="1080" stroke="#000" stroke-width="2.2"/>
<line x1="300.5" y1="1073.5" x2="300.5" y2="1080" stroke="#000" stroke-width="2.2"/>
<line x1="334.08" y1="1073.5" x2="334.08" y2="1080" stroke="#000" stroke-width="2.2"/>
<line x1="367.66" y1="1073.5" x2="367.66" y2="1080" stroke="#000" stroke-width="2.2"/>
<line x1="401.24" y1="1073.5" x2="401.24" y2="1080" stroke="#000" stroke-width="2.2"/>
<line x1="434.82" y1="1073.5" x2="434.82" y2="1080" stroke="#000" stroke-width="2.2"/>
<line x1="468.4" y1="1073.5" x2="468.4" y2="1080" stroke="#000" stroke-width="2.2"/>
<line x1="501.98" y1="1073.5" x2="501.98" y2="1080" stroke="#000" stroke-width="2.2"/>
<line x1="535.56" y1="1073.5" x2="535.56" y2="1080" stroke="#000" stroke-width="2.2"/>
<path d="M133.3,977.95 C134.31,979.77 135.29,983.51 136.32,983.41 C138.03,983.25 139.54,971.39 141.68,967.03 C143.27,963.78 145.41,959.13 147.05,959.11 C148.38,959.1 149.72,961.87 150.73,964.3 C152.5,968.54 153.15,977.54 154.09,983.41 C154.89,988.41 155.57,997.36 156.1,997.33 C156.76,997.31 156.67,982.64 157.44,975.22 C158.22,967.63 158.86,957.88 160.79,952.29 C162.02,948.72 163.85,944.22 165.48,944.1 C166.89,943.99 168.48,949.55 169.84,949.56 C171.03,949.57 172.12,947.42 173.19,945.46 C175.13,941.93 176.14,933.64 178.56,929.08 C180.58,925.27 183.66,919.63 185.93,919.53 C187.72,919.45 189.53,922.77 190.96,924.99 C192.65,927.61 193.47,934.36 194.99,934.54 C196.21,934.69 197.71,931.24 199.01,929.08 C200.65,926.35 201.92,922.04 203.7,919.25 C205.22,916.9 206.94,913.21 208.73,913.25 C210.91,913.3 213.72,918.78 215.77,922.53 C218.35,927.23 219.87,934.47 222.14,939.73 C224.15,944.38 226.54,948.28 228.51,952.56 C230.44,956.74 232.22,965.12 233.88,965.12 C235.32,965.12 236.67,959.48 237.9,955.56 C239.71,949.78 240.3,938.55 242.59,933.45 C243.99,930.33 245.68,926.99 247.62,926.63 C249.41,926.29 251.85,928.46 253.65,930.45 C256.19,933.23 258.2,939.08 260.02,943.01 C261.59,946.38 262.52,952.51 264.05,952.56 C265.73,952.62 267.56,945 269.75,941.37 C272.01,937.62 274.32,932.81 277.46,930.45 C280.16,928.41 283.5,928.63 286.84,927.17 C290.98,925.37 296.22,922.18 300.25,920.07 C303.56,918.35 306.05,916.48 309.31,915.43 C312.73,914.34 316.67,913.93 320.37,913.8 C324.05,913.66 327.91,913.9 331.43,914.61 C334.82,915.3 338.11,916.79 341.16,917.89 C343.89,918.88 346.26,920.87 348.87,920.89 C351.52,920.91 354.32,919.18 356.91,917.89 C359.58,916.56 361.9,913.77 364.62,912.98 C367.17,912.23 370.36,911.87 372.67,912.98 C375.26,914.22 377.1,917.72 379.04,920.89 C381.44,924.81 383.66,930.29 385.41,935.09 C387.11,939.76 388.23,949.29 389.43,949.28 C390.42,949.28 391.22,943.12 392.11,939.73 C393.12,935.9 393.7,931.64 395.13,927.45 C396.73,922.75 398.59,916.02 401.5,912.98 C403.64,910.73 406.34,909.5 409.21,909.15 C412.5,908.75 416.88,909.97 420.27,911.61 C423.84,913.34 426.85,916.7 430,919.53 C433.22,922.43 436,928.54 439.38,928.81 C442.81,929.08 447.01,921.02 450.45,920.89 C453.3,920.79 456.05,923.52 458.49,925.81 C461.4,928.53 463.7,932.78 466.2,936.73 C468.97,941.09 471.77,946.31 474.25,950.92 C476.55,955.21 478.82,963.64 480.62,963.48 C482.55,963.31 483.8,953.54 485.31,947.92 C487.06,941.4 488.47,932.93 490.34,926.63 C491.88,921.44 493.26,916.68 495.37,912.7 C497.17,909.31 499.13,905.59 501.74,903.97 C503.96,902.58 506.94,902.38 509.45,902.6 C511.97,902.83 514.28,904.18 516.83,905.33 C519.73,906.65 522.84,908.44 525.88,910.25 C529.1,912.16 532.36,914.43 535.6,916.52" fill="none" stroke="#5b9bd5" stroke-width="3.8" stroke-linecap="round" stroke-linejoin="round"/>
<path d="M133.3,993.24 C135.2,995.51 137.37,1000.28 139,1000.06 C140.77,999.82 141.45,992.64 143.36,990.51 C144.78,988.92 146.95,987.03 148.39,987.5 C150.45,988.18 151.77,995.3 153.08,998.7 C154.15,1001.47 154.93,1006.36 155.76,1006.34 C156.6,1006.32 157.51,1001.25 158.11,998.42 C158.78,995.29 158.85,991.5 159.45,988.32 C159.99,985.44 160.65,982.74 161.46,980.13 C162.23,977.66 163.08,974.88 164.14,973.04 C164.94,971.66 166.14,969.58 166.83,969.76 C167.86,970.03 167.99,975.76 168.5,979.32 C169.14,983.75 169.65,989.58 170.18,994.33 C170.65,998.63 171.16,1002.31 171.52,1006.62 C171.91,1011.36 172.05,1021.63 172.36,1021.63 C172.71,1021.63 173.12,1009.74 173.53,1002.52 C174.06,993.06 174.6,977.34 175.21,969.76 C175.53,965.72 175.77,963.59 176.21,960.48 C176.66,957.31 177.09,954.58 177.89,950.92 C178.99,945.9 180.48,937.11 182.58,933.18 C183.84,930.83 185.22,928.34 186.94,928.26 C189.17,928.17 192.52,934.32 194.99,935.91 C196.65,936.98 198.17,938.3 199.68,937.82 C202.06,937.06 204.47,929.57 206.38,927.17 C207.5,925.78 208.11,924.39 209.4,924.17 C211.06,923.88 214.08,925.2 215.77,927.17 C218.36,930.18 219.01,937.71 220.47,943.01 C221.91,948.27 222.62,955.27 224.49,958.84 C225.63,961.03 227.01,963.37 228.51,963.48 C230.12,963.6 232.46,961.25 233.88,958.84 C236.23,954.84 236.49,945.76 237.9,939.73 C239.18,934.26 240.33,929.34 241.92,924.17 C243.55,918.88 245.07,911.83 247.62,908.34 C249.34,905.98 251.25,904.29 253.65,903.69 C256.39,903.01 260.42,904.24 263.38,905.33 C266.2,906.38 268.6,908.04 271.09,909.97 C273.87,912.13 276.82,914.73 279.13,917.89 C281.72,921.42 283.47,925.97 285.5,930.45 C287.74,935.38 289.35,942.75 291.87,946.28 C293.5,948.56 295.72,950.8 297.24,950.92 C298.25,951.01 298.99,950.13 299.92,949.28 C301.39,947.95 302.93,944.76 304.61,943.01 C306.09,941.47 307.51,939.58 309.31,939.18 C311.18,938.77 313.76,941.51 315.68,940.82 C318.14,939.94 319.81,934.68 322.05,932.09 C324.08,929.73 326.31,928.32 328.42,925.81 C331.01,922.71 333.68,918.17 336.13,914.61 C338.35,911.38 340.21,907.94 342.5,905.33 C344.49,903.05 346.49,901.18 348.87,899.6 C351.29,897.98 354.19,896.54 356.91,895.78 C359.45,895.06 361.91,894.88 364.62,894.96 C367.68,895.05 371.29,896.18 374.34,896.6 C377.06,896.97 379.33,897.16 382.06,897.41 C385.11,897.71 388.99,897.45 391.78,898.23 C394.1,898.88 396.01,899.74 397.81,901.24 C399.88,902.95 400.92,906.74 403.18,908.34 C405.32,909.86 408.06,910.14 410.89,910.79 C414.21,911.56 418.54,911.03 421.95,912.43 C425.49,913.88 429.2,916.85 431.67,919.53 C433.81,921.84 434.96,924.12 436.37,927.17 C438.2,931.14 439.16,941.26 441.06,941.64 C442.27,941.89 443.59,938.78 445.08,937 C447.05,934.67 449.22,931.06 451.79,928.81 C454.27,926.64 457.36,924.71 460.17,923.62 C462.62,922.68 465.38,921.87 467.54,922.26 C469.45,922.6 470.73,924.92 472.57,925.26 C474.51,925.62 476.97,924.71 478.94,924.17 C480.74,923.68 481.77,922.76 483.97,922.26 C487.83,921.38 496.5,920.74 500.4,920.89 C502.56,920.98 503.5,921.15 505.43,921.71 C508.25,922.54 512.46,925.31 515.49,926.08 C517.8,926.66 519.51,926.1 521.85,926.63 C524.94,927.31 529.93,931.33 532.25,930.45 C534.1,929.74 534.48,926.26 535.6,924.17" fill="none" stroke="#ed7d31" stroke-width="4" stroke-linecap="round" stroke-linejoin="round" stroke-dasharray="8 8.9" stroke-dashoffset="1.77"/>
<path d="M133.3,970.85 C135.2,971.94 137.3,974.35 139,974.13 C140.64,973.91 141.76,970.96 143.36,969.76 C144.9,968.61 147.08,968.03 148.39,967.03 C149.39,966.26 150.01,964.4 150.73,964.57 C152.06,964.89 152.75,972.54 154.09,975.49 C155.08,977.7 156.66,981.12 157.44,980.95 C158.46,980.73 158.02,974.15 158.78,970.03 C159.79,964.52 160.93,952.36 163.47,950.92 C164.7,950.23 166.72,951.19 167.83,952.29 C169.36,953.8 169.76,956.9 170.51,960.48 C171.86,966.87 172.29,987.78 173.19,987.78 C174.08,987.78 174.86,969.49 175.88,961.84 C176.69,955.75 177.33,950.49 178.56,945.46 C179.64,941.03 180.34,934.03 182.58,933.18 C184.36,932.5 188,934.99 189.62,937.27 C191.75,940.26 191.54,946.15 192.3,950.92 C193.13,956.12 193.65,967.3 194.32,967.3 C194.99,967.3 195.63,956.39 196.33,950.65 C197.08,944.5 197.57,938.1 198.67,931.54 C199.86,924.48 200.92,914.51 203.37,909.7 C204.84,906.81 206.81,904.02 208.73,903.69 C210.41,903.41 212.44,905.05 214.1,906.7 C216.49,909.08 218.63,913.97 220.47,917.89 C222.33,921.88 223.65,925.9 225.16,930.45 C226.91,935.7 228.6,942.54 230.19,947.65 C231.47,951.79 232.99,954.35 233.88,958.84 C235.13,965.22 235.16,973.83 235.55,982.59 C236.03,993.41 235.91,1018.9 236.22,1018.9 C236.63,1018.9 236.44,973.24 237.9,958.84 C238.73,950.66 239.39,945.31 241.25,939.73 C242.83,934.97 244.99,930.44 247.62,927.17 C249.83,924.43 252.63,922.6 255.33,920.89 C257.89,919.28 260.88,916.95 263.38,917.07 C265.66,917.18 268.05,918.77 269.75,920.89 C272.16,923.91 273.23,930.61 274.44,935.09 C275.5,939.01 275.79,946.23 276.79,946.28 C277.87,946.33 278.47,935.17 280.81,933.45 C282.37,932.3 284.75,932.95 286.84,933.45 C289.4,934.06 292.33,937.05 294.89,937.55 C296.99,937.95 298.91,937.64 300.93,937 C303.26,936.25 305.84,934.96 307.97,932.9 C310.67,930.29 311.67,924.21 315.01,921.71 C318.43,919.14 324.35,917.83 328.42,917.89 C331.83,917.94 334.96,918.78 337.8,920.89 C341.55,923.68 344.3,934.81 347.52,935.09 C350.11,935.31 352.19,929.25 355.24,927.17 C358.41,925.01 362.72,922.13 366.3,922.53 C370.11,922.96 373.75,927.78 377.36,930.45 C380.9,933.06 385.06,934.03 387.75,938.37 C392.29,945.66 393.06,962.55 394.8,974.67 C396.51,986.67 396.94,1010.66 398.15,1010.71 C398.89,1010.74 399.55,1001.98 400.49,997.06 C401.61,991.22 403.05,983.76 404.52,977.95 C405.77,972.99 406.98,968.93 408.54,964.3 C410.2,959.38 411.97,949.67 414.24,949.28 C415.93,949 418.57,953.23 419.94,956.11 C421.66,959.71 421.84,964.72 422.62,969.76 C423.58,975.94 424.19,990.5 424.97,990.51 C425.64,990.51 426.34,980.6 426.98,975.22 C427.69,969.21 427.96,961.85 428.99,956.11 C429.85,951.3 430.44,947.17 432.34,943.01 C434.36,938.58 437.33,933.32 441.06,930.45 C444.57,927.74 450.42,924.63 453.8,925.81 C457.32,927.03 459.5,934.23 461.51,938.37 C463.29,942.04 464.44,945.01 465.53,949.28 C466.99,954.98 467.17,969.68 468.55,969.76 C469.95,969.84 471.94,955.19 473.91,949.28 C475.48,944.61 477.16,941.32 478.94,937 C480.93,932.18 482.69,924.91 485.31,921.71 C487,919.65 489.07,918.03 491.01,917.89 C492.87,917.76 494.59,919.23 496.71,920.62 C499.98,922.76 504.43,927.27 508.11,930.45 C511.57,933.44 514.5,938.75 518.17,939.18 C521.87,939.62 527.33,931.87 530.24,932.9 C533.15,933.95 533.81,941.28 535.6,945.46" fill="none" stroke="#7030a0" stroke-width="3.8" stroke-linecap="round" stroke-linejoin="round" stroke-dasharray="12.5 17" stroke-dashoffset="10.93"/>
<path d="M133.3,981.77 C135.2,978.77 137.13,974.55 139,972.76 C140.13,971.69 141.38,970.45 142.35,970.85 C144.25,971.63 145.39,979.62 146.37,985.05 C147.64,992.07 147.63,1009.61 148.39,1009.62 C149.1,1009.63 149.93,995.37 150.73,987.78 C151.61,979.51 151.67,968.55 153.42,961.84 C154.59,957.32 155.92,952 158.11,950.92 C159.6,950.19 161.73,951.48 163.47,952.29 C165.43,953.2 167.57,956.91 169.17,956.38 C171.69,955.56 172.67,945.19 174.54,940 C176.26,935.22 177.63,929.46 179.9,926.35 C181.46,924.22 183.45,922.15 185.26,921.99 C186.92,921.83 188.62,923.5 190.29,924.72 C192.31,926.18 194.46,930.65 196.33,930.45 C198.4,930.22 199.95,924.44 202.03,921.99 C203.9,919.77 206.04,916.05 208.06,916.25 C210.62,916.5 213.49,923.17 215.77,927.17 C218.23,931.49 219.53,938.49 222.14,941.37 C223.84,943.24 225.78,943.83 227.84,944.64 C230.01,945.5 232.71,945.19 234.88,946.28 C237.21,947.46 239.55,952.19 241.25,951.74 C243.35,951.19 243.96,942.52 245.61,939.73 C246.65,937.97 247.55,936 248.96,935.91 C251.02,935.78 254.9,939.69 257.01,943.01 C259.82,947.42 261.07,955.46 262.37,961.3 C263.54,966.51 264.03,970.38 264.72,976.31 C265.7,984.85 265.87,1007.64 267.06,1007.71 C267.95,1007.76 269.27,996.6 270.42,990.51 C271.72,983.6 273.32,975.16 274.44,968.39 C275.38,962.69 275.82,958.17 276.79,952.56 C277.89,946.16 278.33,937.09 280.81,932.09 C282.58,928.52 284.84,925.9 287.85,924.17 C291.1,922.3 295.69,922.97 299.92,921.71 C304.88,920.23 310.32,916.46 315.68,915.43 C320.83,914.44 327.08,914.92 331.43,915.43 C334.59,915.8 337.01,917.69 339.48,917.34 C341.79,917.02 343.55,915.2 345.85,913.8 C348.71,912.05 351.81,908.42 355.24,907.52 C358.63,906.62 363.01,906.81 366.3,908.34 C369.91,910.01 373.11,914.12 375.69,917.89 C378.46,921.95 380.4,926.63 382.06,932.09 C384.12,938.88 384.75,948.56 386.08,955.84 C387.21,962.04 388.54,973.09 389.43,973.04 C390.6,972.97 390.35,951.8 391.78,943.01 C392.93,935.94 394.22,929.37 396.47,924.17 C398.27,920.02 400.38,915.52 403.18,913.8 C405.39,912.43 408.31,912.73 410.89,912.98 C413.57,913.23 416.43,914 418.93,915.43 C421.73,917.03 424.28,920.01 426.64,922.53 C428.97,925.02 430.78,928.14 433.01,930.45 C435.04,932.54 437.1,935.23 439.38,935.91 C441.38,936.51 443.47,935.69 445.75,935.09 C448.62,934.33 452.31,931.29 455.14,931.27 C457.46,931.25 459.6,932.27 461.51,933.72 C463.84,935.5 465.37,941.92 467.54,941.91 C470.11,941.91 473.26,934.53 475.93,930.45 C478.76,926.1 481.15,921.13 483.97,916.52 C486.84,911.85 488.74,905.74 493.02,902.6 C497.54,899.3 505.36,898.18 510.79,897.69 C515.26,897.28 519.27,897.25 523.2,898.78 C527.6,900.5 531.47,905.15 535.6,908.34" fill="none" stroke="#4472c4" stroke-width="3.8" stroke-linecap="round" stroke-linejoin="round" stroke-dasharray="28.5 18" stroke-dashoffset="13.75"/>
<path d="M133.3,1039.38 C133.64,1036.74 133.92,1034.12 134.31,1031.46 C134.7,1028.75 135.2,1026 135.65,1023.27 C136.09,1020.54 136.43,1017.8 136.99,1015.08 C137.55,1012.34 138.09,1009.51 139,1006.89 C139.89,1004.32 140.83,1001.76 142.35,999.52 C143.93,997.19 146.75,995.55 148.39,993.24 C149.97,990.99 151.02,988.43 152.07,985.87 C153.15,983.25 153.64,980.31 154.76,977.68 C155.87,975.04 156.83,971.86 158.78,970.03 C160.67,968.27 164.1,968.41 166.15,966.76 C168.26,965.07 170.01,962.44 171.18,959.93 C172.35,957.43 172.42,954.46 173.19,951.74 C173.98,949 174.86,946.21 175.88,943.55 C176.88,940.94 177.76,938.29 179.23,935.91 C180.75,933.45 182.66,930.68 184.93,929.08 C187.06,927.58 189.86,927.35 192.3,926.35 C194.78,925.35 197.29,924.43 199.68,923.08 C202.21,921.64 204.51,918.39 207.06,917.89 C209.33,917.45 212.14,918.21 214.1,919.53 C216.24,920.97 217.77,924.13 219.12,926.63 C220.44,929.05 221.37,931.6 222.14,934.27 C222.95,937.05 223.3,940.16 223.82,943.01 C224.31,945.71 224.67,948.22 225.16,950.92 C225.67,953.77 226.32,956.82 226.83,959.66 C227.32,962.36 227.63,967.57 228.18,967.58 C228.9,967.59 229.95,958.69 230.86,953.93 C231.85,948.72 232.55,941.97 233.88,937.55 C234.83,934.37 235.88,932.14 237.23,929.63 C238.57,927.13 239.96,924.49 241.92,922.53 C243.87,920.58 246.58,917.99 248.96,917.89 C251.28,917.79 253.79,920.19 256,921.71 C258.27,923.27 260.08,925.58 262.37,927.17 C264.66,928.77 267.13,930.85 269.75,931.27 C272.38,931.68 275.35,930.04 278.13,929.63 C280.83,929.23 283.46,928.57 286.17,928.81 C289.04,929.06 292.08,930.88 294.89,931.27 C297.43,931.62 299.71,931.39 302.27,931.27 C305.05,931.14 308.31,929.9 310.98,930.45 C313.54,930.97 315.52,933.85 318.02,934.27 C320.55,934.69 323.61,934.02 326.07,932.9 C328.66,931.73 330.51,928.35 333.11,927.17 C335.57,926.06 338.52,926.45 341.16,925.81 C343.78,925.17 346.37,924.39 348.87,923.35 C351.4,922.3 353.86,920.97 356.24,919.53 C358.66,918.06 360.82,916.07 363.28,914.61 C365.74,913.16 368.32,911.56 370.99,910.79 C373.58,910.05 376.31,910.33 379.04,909.97 C381.89,909.6 384.93,908.93 387.75,908.61 C390.4,908.31 392.87,907.74 395.47,908.06 C398.23,908.4 401.53,909.25 403.85,910.79 C406.09,912.29 407.5,914.87 409.21,917.07 C410.97,919.33 412.76,921.75 414.24,924.17 C415.65,926.49 416.11,929.83 417.93,931.27 C419.57,932.57 422.08,933.06 424.3,932.9 C426.85,932.73 429.82,929.35 432.34,929.63 C434.85,929.91 437.07,933.04 439.38,934.54 C441.54,935.94 443.37,937.5 445.75,938.37 C448.35,939.31 451.58,939.86 454.47,939.73 C457.39,939.6 460.38,938.3 463.19,937.55 C465.84,936.84 468.29,936 470.9,935.36 C473.54,934.72 476.22,933.91 478.94,933.72 C481.7,933.54 484.79,933.43 487.32,934.27 C489.8,935.09 492,936.84 494.03,938.64 C496.16,940.53 497.98,943.12 499.73,945.46 C501.44,947.76 502.53,952.16 504.42,952.56 C506.16,952.93 508.63,950.39 510.46,948.74 C512.47,946.92 514,944.21 515.82,941.91 C517.69,939.57 519.48,936.87 521.52,934.82 C523.41,932.91 525.3,931.17 527.55,929.9 C529.87,928.6 532.69,928.08 535.26,927.17" fill="none" stroke="#676767" stroke-width="3.6" stroke-linecap="round" stroke-linejoin="round" stroke-dasharray="0.1 8.6"/>
<text x="0" y="0" font-size="22" font-weight="bold" text-anchor="end" transform="translate(113.4,861.9) scale(1,1.05)">0</text>
<text x="0" y="0" font-size="22" font-weight="bold" text-anchor="end" transform="translate(113.4,889.2) scale(1,1.05)">-10</text>
<text x="0" y="0" font-size="22" font-weight="bold" text-anchor="end" transform="translate(113.4,916.5) scale(1,1.05)">-20</text>
<text x="0" y="0" font-size="22" font-weight="bold" text-anchor="end" transform="translate(113.4,943.8) scale(1,1.05)">-30</text>
<text x="0" y="0" font-size="22" font-weight="bold" text-anchor="end" transform="translate(113.4,971.1) scale(1,1.05)">-40</text>
<text x="0" y="0" font-size="22" font-weight="bold" text-anchor="end" transform="translate(113.4,998.4) scale(1,1.05)">-50</text>
<text x="0" y="0" font-size="22" font-weight="bold" text-anchor="end" transform="translate(113.4,1025.7) scale(1,1.05)">-60</text>
<text x="0" y="0" font-size="22" font-weight="bold" text-anchor="end" transform="translate(113.4,1053) scale(1,1.05)">-70</text>
<text x="0" y="0" font-size="22" font-weight="bold" text-anchor="end" transform="translate(113.4,1080.3) scale(1,1.05)">-80</text>
<text x="0" y="0" font-size="22" font-weight="bold" text-anchor="middle" transform="translate(133.6,1106.3) scale(1,1.05)">0</text>
<text x="0" y="0" font-size="22" font-weight="bold" text-anchor="middle" transform="translate(166.18,1106.3) scale(1,1.05)">1</text>
<text x="0" y="0" font-size="22" font-weight="bold" text-anchor="middle" transform="translate(199.76,1106.3) scale(1,1.05)">2</text>
<text x="0" y="0" font-size="22" font-weight="bold" text-anchor="middle" transform="translate(233.34,1106.3) scale(1,1.05)">3</text>
<text x="0" y="0" font-size="22" font-weight="bold" text-anchor="middle" transform="translate(266.92,1106.3) scale(1,1.05)">4</text>
<text x="0" y="0" font-size="22" font-weight="bold" text-anchor="middle" transform="translate(300.5,1106.3) scale(1,1.05)">5</text>
<text x="0" y="0" font-size="22" font-weight="bold" text-anchor="middle" transform="translate(334.08,1106.3) scale(1,1.05)">6</text>
<text x="0" y="0" font-size="22" font-weight="bold" text-anchor="middle" transform="translate(367.66,1106.3) scale(1,1.05)">7</text>
<text x="0" y="0" font-size="22" font-weight="bold" text-anchor="middle" transform="translate(401.24,1106.3) scale(1,1.05)">8</text>
<text x="0" y="0" font-size="22" font-weight="bold" text-anchor="middle" transform="translate(434.82,1106.3) scale(1,1.05)">9</text>
<text x="0" y="0" font-size="22" font-weight="bold" text-anchor="middle" transform="translate(468.4,1106.3) scale(1,1.05)">10</text>
<text x="0" y="0" font-size="22" font-weight="bold" text-anchor="middle" transform="translate(501.98,1106.3) scale(1,1.05)">11</text>
<text x="0" y="0" font-size="22" font-weight="bold" text-anchor="middle" transform="translate(535.56,1106.3) scale(1,1.05)">12</text>
<line x1="79.85" y1="797.6" x2="150.75" y2="797.6" stroke="#5b9bd5" stroke-width="4.3" stroke-linecap="round"/>
<text x="0" y="0" font-size="21.5" font-weight="bold" text-anchor="start" transform="translate(159.4,803.8) scale(1,1.07)">S1,2</text>
<line x1="252.25" y1="797.6" x2="260.05" y2="797.6" stroke="#ed7d31" stroke-width="4.3" stroke-linecap="round"/>
<line x1="269.05" y1="797.6" x2="276.85" y2="797.6" stroke="#ed7d31" stroke-width="4.3" stroke-linecap="round"/>
<line x1="286.05" y1="797.6" x2="293.85" y2="797.6" stroke="#ed7d31" stroke-width="4.3" stroke-linecap="round"/>
<line x1="302.85" y1="797.6" x2="310.65" y2="797.6" stroke="#ed7d31" stroke-width="4.3" stroke-linecap="round"/>
<line x1="320.35" y1="797.6" x2="322.75" y2="797.6" stroke="#ed7d31" stroke-width="4.3" stroke-linecap="round"/>
<text x="0" y="0" font-size="21.5" font-weight="bold" text-anchor="start" transform="translate(331.3,803.8) scale(1,1.07)">S1,3</text>
<line x1="424.65" y1="797.6" x2="436.85" y2="797.6" stroke="#7030a0" stroke-width="4.3" stroke-linecap="round"/>
<line x1="454.55" y1="797.6" x2="466.35" y2="797.6" stroke="#7030a0" stroke-width="4.3" stroke-linecap="round"/>
<line x1="484.05" y1="797.6" x2="494.95" y2="797.6" stroke="#7030a0" stroke-width="4.3" stroke-linecap="round"/>
<text x="0" y="0" font-size="21.5" font-weight="bold" text-anchor="start" transform="translate(503.2,803.8) scale(1,1.07)">S1,4</text>
<line x1="79.85" y1="823.3" x2="108.15" y2="823.3" stroke="#4472c4" stroke-width="4.3" stroke-linecap="round"/>
<line x1="126.35" y1="823.3" x2="150.75" y2="823.3" stroke="#4472c4" stroke-width="4.3" stroke-linecap="round"/>
<text x="0" y="0" font-size="21.5" font-weight="bold" text-anchor="start" transform="translate(159.4,829.4) scale(1,1.07)">S2,3</text>
<circle cx="251.9" cy="823.3" r="2.05" fill="#676767"/>
<circle cx="260.4" cy="823.3" r="2.05" fill="#676767"/>
<circle cx="268.9" cy="823.3" r="2.05" fill="#676767"/>
<circle cx="277.4" cy="823.3" r="2.05" fill="#676767"/>
<circle cx="285.9" cy="823.3" r="2.05" fill="#676767"/>
<circle cx="294.4" cy="823.3" r="2.05" fill="#676767"/>
<circle cx="302.9" cy="823.3" r="2.05" fill="#676767"/>
<circle cx="311.4" cy="823.3" r="2.05" fill="#676767"/>
<circle cx="319.9" cy="823.3" r="2.05" fill="#676767"/>
<text x="0" y="0" font-size="21.5" font-weight="bold" text-anchor="start" transform="translate(331.3,829.4) scale(1,1.07)">S3,4</text>
<text x="0" y="0" font-size="20" font-weight="bold" text-anchor="middle" transform="translate(340.3,1135.3) scale(1,1.05)" textLength="159" lengthAdjust="spacingAndGlyphs">Frequency (GHz)</text>
<text transform="translate(60.3,964.9) scale(1,1.07) rotate(-90)" font-size="20" font-weight="bold" text-anchor="middle">|S<tspan font-size="14" dy="4">ij</tspan><tspan dy="-4">| (dB)</tspan></text>
<text x="336.4" y="1166" font-size="19.5" font-weight="normal" text-anchor="middle">(c)</text>
</svg>
</body></html>
